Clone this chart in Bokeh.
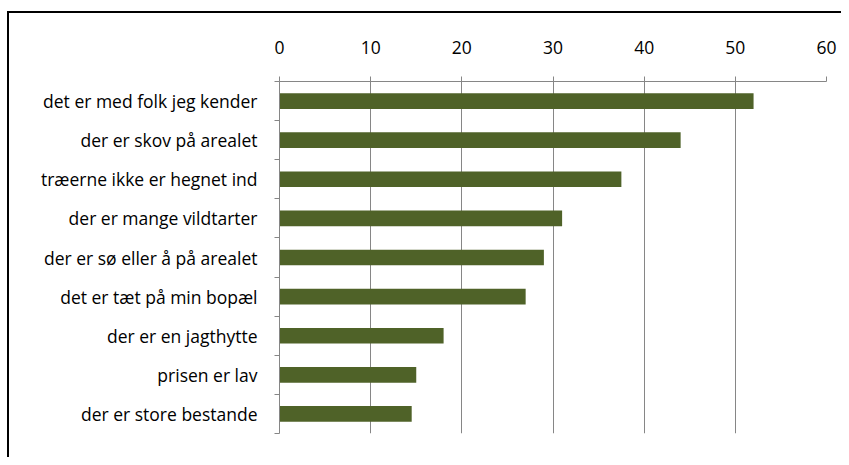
from bokeh.plotting import figure
from bokeh.models import ColumnDataSource, FixedTicker, Range1d
from bokeh.embed import file_html
from bokeh.resources import INLINE

categories = [
    "det er med folk jeg kender",
    "der er skov på arealet",
    "træerne ikke er hegnet ind",
    "der er mange vildtarter",
    "der er sø eller å på arealet",
    "det er tæt på min bopæl",
    "der er en jagthytte",
    "prisen er lav",
    "der er store bestande",
]
values = [52, 44, 37.5, 31, 29, 27, 18, 15, 14.5]
x_ticks = [0, 10, 20, 30, 40, 50, 60]

FONT = "Open Sans"
BAR = "#4F6228"
GRID = "#868686"

n = len(categories)
idx = list(range(n))
src = ColumnDataSource(dict(y=idx, v=values, cat=categories))

p = figure(width=841, height=457, output_backend="svg", toolbar_location=None,
           x_range=Range1d(0, 60), y_range=Range1d(n - 0.5, -0.5),
           x_axis_location="above",
           min_border_left=279, min_border_right=15, min_border_top=81, min_border_bottom=24)

p.hbar(y="y", right="v", left=0, height=0.4, source=src, fill_color=BAR, line_color=None)

p.outline_line_color = None
p.background_fill_color = "white"
p.border_fill_color = None

# top x axis
xa = p.xaxis[0]
xa.ticker = FixedTicker(ticks=x_ticks)
xa.axis_line_color = GRID
xa.major_tick_line_color = GRID
xa.major_tick_out = 5
xa.major_tick_in = 0
xa.minor_tick_line_color = None
xa.major_label_text_font = FONT
xa.major_label_text_font_size = "17.5px"
xa.major_label_text_color = "#000000"
xa.major_label_standoff = 23

# left category axis
ya = p.yaxis[0]
ya.ticker = FixedTicker(ticks=idx, minor_ticks=[i - 0.5 for i in range(n + 1)])
ya.major_label_overrides = {i: c for i, c in enumerate(categories)}
ya.axis_line_color = GRID
ya.major_tick_line_color = None
ya.major_tick_out = 5
ya.major_tick_in = 0
ya.minor_tick_line_color = GRID
ya.minor_tick_out = 5
ya.minor_tick_in = 0
ya.major_label_text_font = FONT
ya.major_label_text_font_size = "17.5px"
ya.major_label_text_color = "#000000"
ya.major_label_standoff = 17

p.xgrid.grid_line_color = GRID
p.xgrid.ticker = FixedTicker(ticks=x_ticks)
p.ygrid.grid_line_color = None

# outer chart border (only its top and left edges fall inside the picture)
p.styles = {
    "background-color": "white",
    "background-image": "linear-gradient(#000, #000), linear-gradient(#000, #000)",
    "background-size": "2px 100%, 100% 2px",
    "background-position": "7px 11px, 7px 11px",
    "background-repeat": "no-repeat",
}

open("out.html", "w").write(file_html(p, INLINE))
